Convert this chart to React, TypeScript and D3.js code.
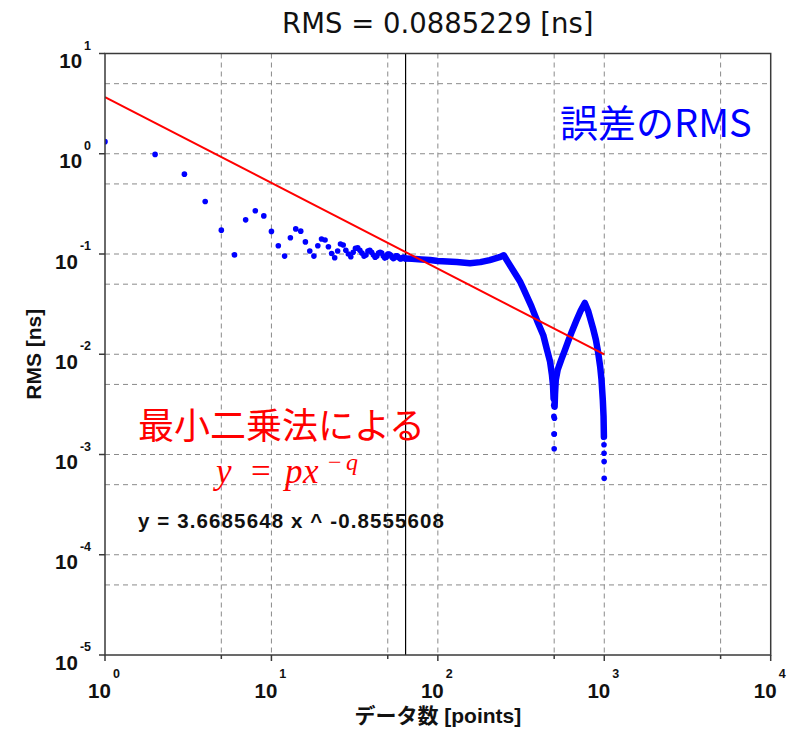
import React from "react";
import * as d3 from "d3";

// ---------- data ----------
const xDomain = [1, 1e4];
const yDomain = [1e-5, 10];
const xMajorTicks = [1, 10, 100, 1000, 10000];
const xMinorTicks = [5, 50, 500, 5000];
const yMajorTicks = [1e-5, 1e-4, 1e-3, 1e-2, 1e-1, 1, 10];
const xGrid = [5, 10, 50, 100, 500, 1000, 5000];
const yGrid = [5, 1, 0.5, 0.1, 0.05, 0.01, 0.005, 0.001, 5e-4, 1e-4, 5e-5];
const xTickExp = ["0", "1", "2", "3", "4"];
const yTickExp = ["-5", "-4", "-3", "-2", "-1", "0", "1"];

// RMS per data count, n = 1..64 (individual dots)
const sparseRms = [
  1.32, 0.985, 0.626, 0.334, 0.173, 0.098, 0.219, 0.27, 0.24, 0.168,
  0.121, 0.0953, 0.145, 0.178, 0.169, 0.132, 0.107, 0.0953, 0.121, 0.141,
  0.138, 0.118, 0.101, 0.0917, 0.107, 0.126, 0.123, 0.109, 0.1, 0.094,
  0.104, 0.114, 0.115, 0.109, 0.102, 0.0953, 0.0975, 0.107, 0.109, 0.104,
  0.0975, 0.093, 0.0953, 0.102, 0.104, 0.102, 0.0953, 0.091, 0.093, 0.1,
  0.1, 0.0975, 0.093, 0.09, 0.092, 0.096, 0.096, 0.093, 0.09, 0.089,
  0.091, 0.093, 0.092, 0.09,
];

// dense part, n = 64..496 (dots merge into a band)
const band1: [number, number][] = [
  [64, 0.09], [70, 0.0895], [80, 0.088], [90, 0.087], [100, 0.085],
  [130, 0.083], [156, 0.081], [180, 0.083], [205, 0.087], [235, 0.093],
  [249, 0.097], [265, 0.082], [283, 0.069], [300, 0.059], [312, 0.053],
  [325, 0.046], [345, 0.037], [365, 0.03], [385, 0.024], [400, 0.0205],
  [430, 0.0155], [450, 0.0115], [472, 0.0085], [485, 0.0062], [492, 0.0049],
  [496, 0.0036],
];
// dense part, n = 503..995
const band2: [number, number][] = [
  [503, 0.003], [506, 0.004], [511, 0.0055], [525, 0.007], [551, 0.0088],
  [580, 0.011], [607, 0.0135], [640, 0.017], [681, 0.0218], [720, 0.027],
  [764, 0.0325], [800, 0.027], [857, 0.018], [890, 0.014], [918, 0.0105],
  [945, 0.0075], [962, 0.0056], [980, 0.0035], [990, 0.0024], [995, 0.0015],
];
// isolated dots at the bottoms of the two dips
const dipDots: [number, number][] = [
  [497, 0.0031], [498, 0.0024], [499, 0.0016], [500, 0.00114], [501, 0.0016],
  [502, 0.0023], [994, 0.0017], [996, 0.00125], [997, 0.00103], [998, 0.00085],
  [999, 0.00058],
];

// least squares fit  y = 3.6685648 x ^ -0.8555608  (end points)
const fitX = [1, 1000];
const fitY = [3.6686, 0.00995];
const markerX = 64;

const titleText = "RMS = 0.0885229 [ns]";
const xLabel = "データ数 [points]";
const yLabel = "RMS [ns]";
const fitText = "y = 3.6685648 x ^ -0.8555608";

export default function App() {
  const W = 793, H = 734;
  const L = 105, R = 770.7, T = 53.5, B = 655;
  const x = d3.scaleLog().domain(xDomain).range([L, R]);
  const y = d3.scaleLog().domain(yDomain).range([B, T]);
  const sans = "'DejaVu Sans', 'Noto Sans CJK JP', sans-serif";
  const arial = "'Liberation Sans', 'Noto Sans CJK JP', sans-serif";
  const cjk = "'Noto Sans CJK JP', sans-serif";
  const blue = "#0000ff";
  const line = d3.line<[number, number]>().x((d) => x(d[0])).y((d) => y(d[1]));
  const sparse = sparseRms.map((v, i) => [i + 1, v] as [number, number]);
  const fit = fitX.map((v, i) => [v, fitY[i]] as [number, number]);

  return (
    <svg width={W} height={H} style={{ position: "absolute", left: 0, top: 0, background: "#fff" }}>
      <defs>
        <clipPath id="plot">
          <rect x={L} y={T} width={R - L} height={B - T} />
        </clipPath>
      </defs>
      <rect x={0} y={0} width={W} height={H} fill="#fff" />
      {/* grid */}
      <g stroke="#8a8a8a" strokeWidth={1} strokeDasharray="5,4">
        {xGrid.map((g) => (
          <line key={"gx" + g} x1={x(g)} x2={x(g)} y1={T} y2={B} />
        ))}
        {yGrid.map((g) => (
          <line key={"gy" + g} x1={L} x2={R} y1={y(g)} y2={y(g)} />
        ))}
      </g>
      {/* data */}
      <g clipPath="url(#plot)">
        <line x1={x(markerX)} x2={x(markerX)} y1={T} y2={B} stroke="#000" strokeWidth={1.2} />
        <path d={line(band1) || ""} fill="none" stroke={blue} strokeWidth={6.5} strokeLinejoin="round" strokeLinecap="round" />
        <path d={line(band2) || ""} fill="none" stroke={blue} strokeWidth={6.5} strokeLinejoin="round" strokeLinecap="round" />
        {sparse.concat(dipDots).map((d, i) => (
          <circle key={"p" + i} cx={x(d[0])} cy={y(d[1])} r={2.8} fill={blue} />
        ))}
        <path d={line(fit) || ""} fill="none" stroke="#ff0000" strokeWidth={2} />
      </g>
      {/* frame */}
      <rect x={L} y={T} width={R - L} height={B - T} fill="none" stroke="#3a3a3a" strokeWidth={1.5} />
      {/* ticks */}
      <g stroke="#3a3a3a" strokeWidth={1.5}>
        {xMajorTicks.map((t) => (
          <line key={"xt" + t} x1={x(t)} x2={x(t)} y1={B} y2={B + 6} />
        ))}
        {xMinorTicks.map((t) => (
          <line key={"xm" + t} x1={x(t)} x2={x(t)} y1={B} y2={B + 4} />
        ))}
        {yMajorTicks.map((t) => (
          <line key={"yt" + t} x1={L - 6} x2={L} y1={y(t)} y2={y(t)} />
        ))}
      </g>
      {/* tick labels */}
      <g fontFamily={arial} fontWeight="bold" fill="#111" fontSize={20.5}>
        {xMajorTicks.map((t, i) => (
          <text key={"xl" + t} x={x(t) - 1} y={698} textAnchor="middle">
            10
            <tspan dx={2} dy={-20} fontSize={12.5}>{xTickExp[i]}</tspan>
          </text>
        ))}
        {yMajorTicks.map((t, i) => (
          <text key={"yl" + t} x={91} y={y(t) + 14.5} textAnchor="end">
            10
            <tspan dx={2} dy={-18.5} fontSize={12.5}>{yTickExp[i]}</tspan>
          </text>
        ))}
      </g>
      {/* titles */}
      <text x={(L + R) / 2} y={33} textAnchor="middle" fontFamily={sans} fontSize={27.5} fill="#111">
        {titleText}
      </text>
      <text x={(L + R) / 2} y={723} textAnchor="middle" fontFamily={arial} fontWeight="bold" fontSize={21} fill="#111">
        {xLabel}
      </text>
      <text transform={`translate(41,${(T + B) / 2}) rotate(-90)`} textAnchor="middle" fontFamily={arial} fontWeight="bold" fontSize={21} fill="#111">
        {yLabel}
      </text>
      {/* annotations */}
      <text x={560} y={136.5} fontFamily={cjk} fontSize={38} fill={blue}>
        誤差のRMS
      </text>
      <text x={138} y={439} fontFamily={cjk} fontSize={36} fill="#ff0000">
        最小二乗法による
      </text>
      <text y={483} fontFamily="'Liberation Serif', serif" fontStyle="italic" fontSize={35} fill="#ff0000">
        <tspan x={216}>y</tspan>
        <tspan x={251} fontStyle="normal">=</tspan>
        <tspan x={285}>p</tspan>
        <tspan x={303}>x</tspan>
        <tspan x={328} y={470} fontSize={24} fontStyle="normal">−</tspan>
        <tspan x={346} y={470} fontSize={24}>q</tspan>
      </text>
      <text x={138} y={528} fontFamily={arial} fontWeight="bold" fontSize={20.5} fill="#111" textLength={306} lengthAdjust="spacing">
        {fitText}
      </text>
    </svg>
  );
}
